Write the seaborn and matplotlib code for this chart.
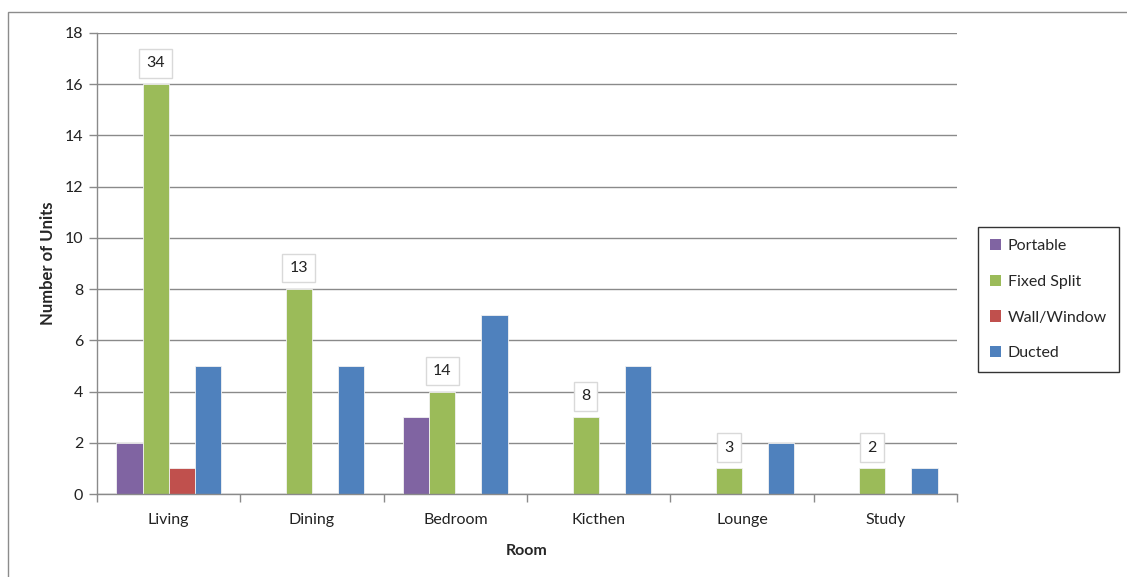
import matplotlib
matplotlib.use("Agg")
import matplotlib.pyplot as plt
from matplotlib.patches import Rectangle, Patch
import pandas as pd
import seaborn as sns

rooms = ["Living", "Dining", "Bedroom", "Kicthen", "Lounge", "Study"]
portable = [2, 0, 3, 0, 0, 0]
fixed_split = [16, 8, 4, 3, 1, 1]
wall_window = [1, 0, 0, 0, 0, 0]
ducted = [5, 5, 7, 5, 2, 1]
totals = [34, 13, 14, 8, 3, 2]

types = ["Portable", "Fixed Split", "Wall/Window", "Ducted"]
colors = ["#8064A2", "#9BBB59", "#C0504D", "#4F81BD"]

rows = []
for t, vals in zip(types, [portable, fixed_split, wall_window, ducted]):
    for r, v in zip(rooms, vals):
        rows.append({"Room": r, "Units": v, "Type": t})
df = pd.DataFrame(rows)

sns.set_style("white")
plt.rcParams["font.family"] = ["Lato", "DejaVu Sans"]

fig = plt.figure(figsize=(11.27, 5.77), dpi=100)
ax = fig.add_axes([97 / 1127, 1 - 494 / 577, 860 / 1127, 461 / 577])

# outer chart frame
fig.patches.append(Rectangle((8 / 1127, -0.1), 1.2, 1 - 12 / 577 + 0.1,
                             transform=fig.transFigure, fill=False,
                             edgecolor="#8c8c8c", linewidth=1.0))

sns.barplot(data=df, x="Room", y="Units", hue="Type", hue_order=types,
            order=rooms, palette=colors, saturation=1, width=0.73,
            ax=ax, legend=False, errorbar=None,
            edgecolor="#f2f2f2", linewidth=0.6)

ax.set_ylim(0, 18)
ax.set_yticks(range(0, 19, 2))
ax.set_xlim(-0.5, len(rooms) - 0.5)
ax.yaxis.grid(True, color="#8a8a8a", linewidth=1.0)
ax.set_axisbelow(True)
for side in ["top", "right"]:
    ax.spines[side].set_visible(False)
for side in ["left", "bottom"]:
    ax.spines[side].set_color("#8a8a8a")
    ax.spines[side].set_linewidth(1.0)

# category boundaries as x tick marks, names centred between them
ax.set_xticks([i - 0.5 for i in range(len(rooms) + 1)], minor=False)
ax.set_xticklabels([])
ax.set_xticks(range(len(rooms)), minor=True)
ax.set_xticklabels(rooms, minor=True)
ax.tick_params(axis="x", which="major", length=6, color="#8a8a8a", width=1, direction="out", bottom=True)
ax.tick_params(axis="x", which="minor", length=0, labelsize=11.5, pad=14, labelcolor="#222222")
ax.tick_params(axis="y", length=6, color="#8a8a8a", width=1, direction="out", left=True,
               labelsize=11.5, pad=4, labelcolor="#222222")

ax.set_xlabel("Room", fontsize=11.5, fontweight="bold", labelpad=12)
ax.set_ylabel("Number of Units", fontsize=12, fontweight="bold", labelpad=6)

# room totals above the Fixed Split bars
for patch, total in zip(ax.containers[1].patches, totals):
    cx = patch.get_x() + patch.get_width() / 2
    top = patch.get_height()
    ax.annotate(str(total), (cx, top), xytext=(0, 15), textcoords="offset points",
                ha="center", va="center", fontsize=11.5, color="#222222",
                bbox=dict(boxstyle="square,pad=0.45", facecolor="white",
                          edgecolor="#d9d9d9", linewidth=1.0))

handles = [Patch(facecolor=c, edgecolor="none", label=t) for t, c in zip(types, colors)]
leg = fig.legend(handles=handles, loc="upper left",
                 bbox_to_anchor=(978 / 1127, 1 - 227 / 577),
                 frameon=True, fancybox=False, fontsize=11.5,
                 handlelength=0.7, handleheight=0.7, handletextpad=0.4,
                 labelspacing=1.35, borderpad=0.75, borderaxespad=0)
leg.get_frame().set_edgecolor("#000000")
leg.get_frame().set_linewidth(1.0)

fig.savefig("out.png", dpi=100)
